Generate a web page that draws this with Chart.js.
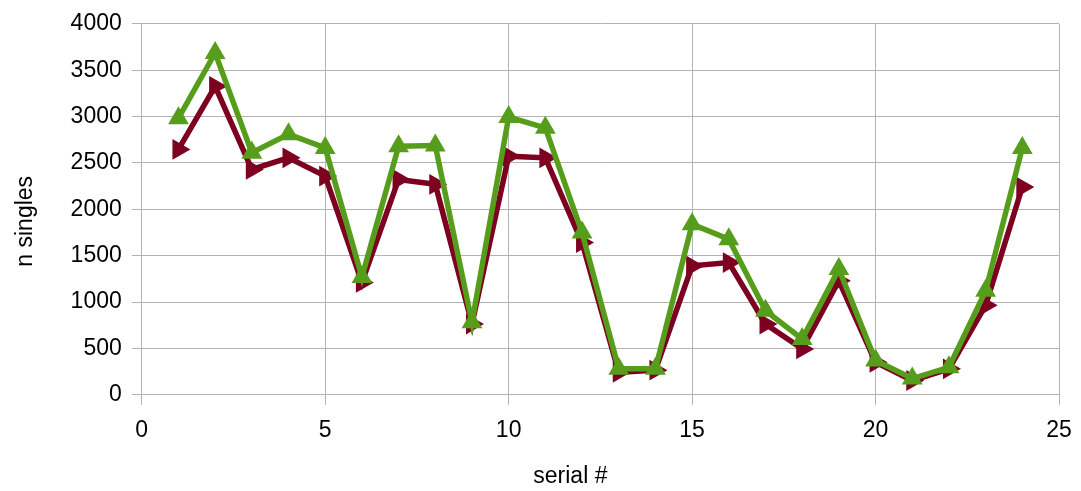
<!DOCTYPE html>
<html>
<head>
<meta charset="utf-8">
<script src="https://cdn.jsdelivr.net/npm/chart.js@4/dist/chart.umd.min.js"></script>
<style>
  html, body { margin: 0; padding: 0; background: #fff; }
  #wrap { width: 1081px; height: 491px; position: relative; }
</style>
</head>
<body>
<div id="wrap"><canvas id="c"></canvas></div>
<script>
const serial = [1,2,3,4,5,6,7,8,9,10,11,12,13,14,15,16,17,18,19,20,21,22,23,24];
const seriesRed = [2645,3326,2430,2555,2358,1211,2322,2269,763,2573,2555,1641,243,265,1390,1426,763,495,1229,350,154,280,965,2240];
const seriesGreen = [2982,3685,2610,2810,2662,1270,2680,2688,781,2995,2878,1749,280,280,1839,1677,906,602,1355,369,175,297,1121,2662];
const xTicks = [0,5,10,15,20,25];
const yTicks = [0,500,1000,1500,2000,2500,3000,3500,4000];
const xTitle = 'serial #';
const yTitle = 'n singles';

const toXY = (xs, ys) => xs.map((x, i) => ({x: x, y: ys[i]}));
const fam = "'Liberation Sans', Arial, sans-serif";
const font = { family: fam, size: 23 };
const grid = '#b3b3b3';

// Draw axis titles at their reference positions (layout space is reserved by the scale titles).
const titlePlugin = {
  id: 'titles',
  afterDraw(chart) {
    const ctx = chart.ctx, ca = chart.chartArea;
    ctx.save();
    ctx.fillStyle = '#000';
    ctx.font = '23px ' + fam;
    ctx.textAlign = 'center';
    ctx.textBaseline = 'middle';
    const xs = chart.scales.x;
    ctx.fillText(xTitle, (ca.left + ca.right) / 2 - 30, xs.bottom - 14);
    const ys = chart.scales.y;
    ctx.translate(ys.left + 12 + 13.8, (ca.top + ca.bottom) / 2 + 12);
    ctx.rotate(-Math.PI / 2);
    ctx.fillText(yTitle, 0, 0);
    ctx.restore();
  }
};

new Chart(document.getElementById('c'), {
  type: 'line',
  data: {
    datasets: [
      {
        label: 'green',
        data: toXY(serial, seriesGreen),
        borderColor: '#579d1c',
        backgroundColor: '#579d1c',
        borderWidth: 5.5,
        pointStyle: 'triangle',
        pointRadius: 12,
        pointHoverRadius: 12,
        pointBorderWidth: 0,
        tension: 0
      },
      {
        label: 'red',
        data: toXY(serial, seriesRed),
        borderColor: '#7e0021',
        backgroundColor: '#7e0021',
        borderWidth: 5.5,
        pointStyle: 'triangle',
        pointRotation: 90,
        pointRadius: 12,
        pointHoverRadius: 12,
        pointBorderWidth: 0,
        tension: 0
      }
    ]
  },
  plugins: [titlePlugin],
  options: {
    responsive: true,
    maintainAspectRatio: false,
    animation: false,
    layout: { padding: { left: 0, right: 0, top: 13, bottom: 0 } },
    plugins: { legend: { display: false }, tooltip: { enabled: false } },
    scales: {
      x: {
        type: 'linear',
        min: 0, max: 25,
        afterBuildTicks: (s) => { s.ticks = xTicks.map(v => ({value: v})); },
        afterFit: (s) => { s.paddingRight = 22; },
        ticks: { color: '#000', font: font, padding: 12, maxRotation: 0, callback: (v) => String(v) },
        grid: { color: grid, lineWidth: 1, tickLength: 10, drawTicks: true },
        border: { color: grid, width: 1 },
        title: { display: true, text: xTitle, color: 'rgba(0,0,0,0)', font: { family: fam, size: 23 }, padding: { top: 7, bottom: 0 } }
      },
      y: {
        min: 0, max: 4000,
        afterBuildTicks: (s) => { s.ticks = yTicks.map(v => ({value: v})); },
        ticks: { color: '#000', font: font, padding: 10, callback: (v) => String(v) },
        grid: { color: grid, lineWidth: 1, tickLength: 10, drawTicks: true },
        border: { color: grid, width: 1 },
        title: { display: true, text: yTitle, color: 'rgba(0,0,0,0)', font: { family: fam, size: 23 }, padding: { top: 12, bottom: 21 } }
      }
    }
  }
});
</script>
</body>
</html>
